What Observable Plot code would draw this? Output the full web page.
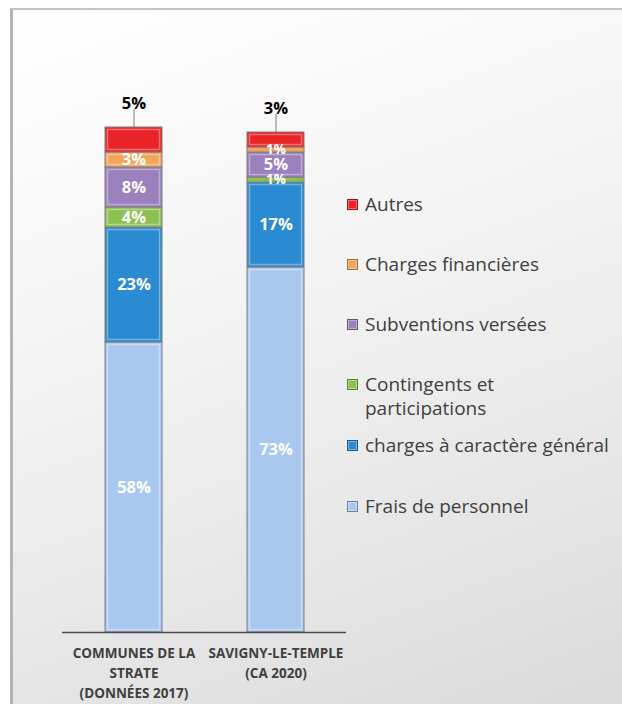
<!DOCTYPE html>
<html><head><meta charset="utf-8">
<script src="https://cdn.jsdelivr.net/npm/d3@7"></script>
<script src="https://cdn.jsdelivr.net/npm/@observablehq/plot@0.6"></script>
<style>
html,body{margin:0;padding:0;background:#fff;}
#frame{position:absolute;left:10px;top:8px;width:640px;height:720px;box-sizing:border-box;
 border-left:3px solid #b4b4b4;border-top:2px solid #c4c4c4;
 background:linear-gradient(160deg,#ffffff 0%,#f3f3f3 40%,#e2e2e2 80%,#d8d8d8 100%);}
#chart{position:absolute;left:0;top:0;}
#legend{position:absolute;left:347px;top:0;font-family:"Open Sans","Noto Sans",sans-serif;font-size:19px;color:#404040;}
.item{position:absolute;left:0;white-space:nowrap;line-height:24px;}
.sw{position:absolute;left:0;width:11px;height:11px;box-sizing:border-box;border:1px solid rgba(0,0,0,0.35);box-shadow:inset 0 0 0 1px rgba(255,255,255,0.35);}
.lbl{position:absolute;left:18px;top:0;}
</style></head>
<body>
<div id="frame"></div>
<div id="chart"></div>
<div id="legend"></div>
<script>
const categories = ["COMMUNES DE LA STRATE (DONNÉES 2017)", "SAVIGNY-LE-TEMPLE (CA 2020)"];
const categoryLabels = ["COMMUNES DE LA\nSTRATE\n(DONNÉES 2017)", "SAVIGNY-LE-TEMPLE\n(CA 2020)"];
const series = ["Frais de personnel", "charges à caractère général", "Contingents et participations", "Subventions versées", "Charges financières", "Autres"];
const colors = ["#a9c8ef", "#2a8ad2", "#8cc152", "#9b80be", "#f0a55a", "#ea2327"];
const fraisPersonnel = [58, 73];
const chargesGenerales = [23, 17];
const contingents = [4, 1];
const subventions = [8, 5];
const chargesFinancieres = [3, 1];
const autres = [5, 3];
const legendOrder = ["Autres", "Charges financières", "Subventions versées", "Contingents et\nparticipations", "charges à caractère général", "Frais de personnel"];

const valuesBySeries = [fraisPersonnel, chargesGenerales, contingents, subventions, chargesFinancieres, autres];
const data = [];
series.forEach((s, i) => categories.forEach((c, j) => data.push({series: s, category: c, value: valuesBySeries[i][j]})));
const totals = categories.map((c, j) => ({category: c, total: d3.sum(valuesBySeries, v => v[j])}));
const labelOf = new Map(categories.map((c, i) => [c, categoryLabels[i]]));

const chart = Plot.plot({
  width: 622, height: 704,
  marginLeft: 62, marginRight: 276, marginTop: 82, marginBottom: 72,
  style: {background: "transparent", fontFamily: "'Open Sans', 'Noto Sans', sans-serif"},
  x: {domain: categories, paddingInner: 0.6, paddingOuter: 0.3},
  y: {domain: [0, 110], axis: null},
  color: {domain: series, range: colors},
  marks: [
    Plot.barY(data, {x: "category", y: "value", fill: "series", stroke: "#7f7f7f", strokeWidth: 1, order: series}),
    Plot.barY(data, {x: "category", y: "value", z: "series", fill: "none", stroke: "#ffffff", strokeOpacity: 0.35, strokeWidth: 1.5, inset: 2.5, order: series}),
    Plot.text(data, Plot.stackY({x: "category", y: "value", z: "series", order: series,
      text: d => d.series === "Autres" ? "" : d.value + "%",
      fill: "white", fontWeight: "bold", fontSize: d => d.value > 1 ? 16.5 : 13.5})),
    Plot.ruleX(totals, {x: "category", y1: "total", y2: d => d.total + 3.6, stroke: "#7f7f7f", strokeWidth: 1}),
    Plot.text(totals, {x: "category", y: "total",
      text: d => {const j = categories.indexOf(d.category); return autres[j] + "%";},
      dy: -24, fill: "#000", fontWeight: "bold", fontSize: 16.5}),
    Plot.ruleY([0], {stroke: "#4a4a4a", strokeWidth: 1.5}),
    Plot.axisX({tickSize: 0, tickPadding: 12, label: null, tickFormat: d => labelOf.get(d),
      fontWeight: "bold", fontSize: 13.5, fill: "#404040", lineHeight: 1.45})
  ]
});
document.getElementById("chart").appendChild(chart);

const legend = document.getElementById("legend");
const centers = [204, 264, 324, 384, 445, 506];
legendOrder.forEach((name, i) => {
  const sIdx = series.length - 1 - i;
  const div = document.createElement("div");
  div.className = "item";
  div.style.top = (centers[i] - 12) + "px";
  const sw = document.createElement("div");
  sw.className = "sw";
  sw.style.background = colors[sIdx];
  sw.style.top = "7px";
  const lbl = document.createElement("div");
  lbl.className = "lbl";
  lbl.innerHTML = name.replace("\n", "<br>");
  div.appendChild(sw); div.appendChild(lbl);
  legend.appendChild(div);
});
</script>
</body></html>
